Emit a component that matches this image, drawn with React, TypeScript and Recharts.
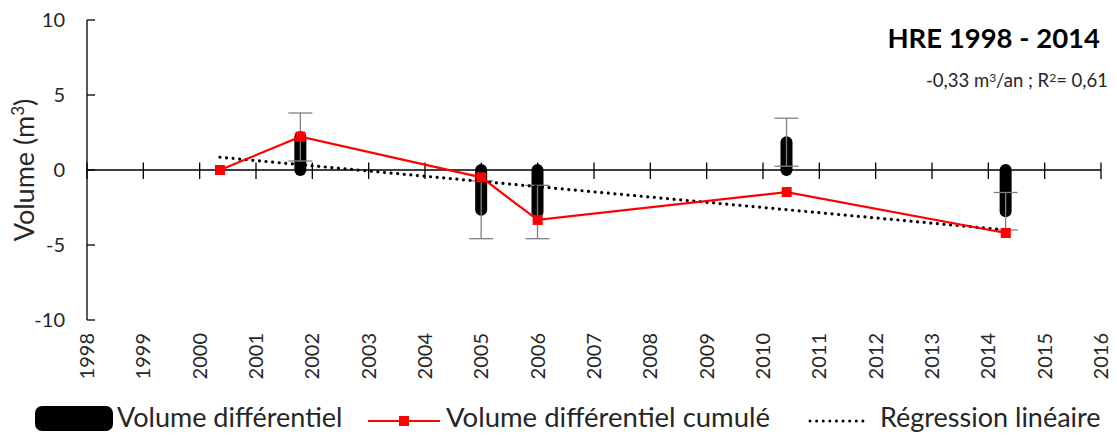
import React from 'react';
import { ComposedChart, Bar, Line, XAxis, YAxis, ReferenceLine, ErrorBar } from 'recharts';

// survey dates (decimal years) and measured volumes (m3)
const surveyYears = [2000.36, 2001.79, 2005.0, 2006.0, 2010.42, 2014.31];
const cumulatedVolume = [0, 2.22, -0.49, -3.33, -1.47, -4.2];
const differentialVolume = [null, 2.2, -2.65, -2.8, 1.85, -2.75];
const differentialError = [null, 1.6, 1.93, 1.78, 1.6, 1.25];
const regressionVolume = [0.85, null, null, null, null, -4.0];

const yearTicks = [
  1998, 1999, 2000, 2001, 2002, 2003, 2004, 2005, 2006, 2007,
  2008, 2009, 2010, 2011, 2012, 2013, 2014, 2015, 2016,
];
const volumeTicks = [-10, -5, 0, 5, 10];

const data = surveyYears.map((year, i) => ({
  year,
  cum: cumulatedVolume[i],
  diff: differentialVolume[i],
  err: differentialError[i],
  reg: regressionVolume[i],
}));

const textColor = '#262626';

// rotated year labels under the plot
const YearTick = (props: any) => {
  const { x, y, payload } = props;
  return (
    <text
      x={x}
      y={y}
      transform={`rotate(-90, ${x}, ${y})`}
      textAnchor="end"
      dy="0.35em"
      fontSize={20}
      fill={textColor}
    >
      {payload.value}
    </text>
  );
};

// y axis title with a real superscript
const VolumeLabel = (props: any) => {
  const { viewBox } = props;
  const cx = viewBox.x + 17;
  const cy = viewBox.y + viewBox.height / 2;
  return (
    <text
      x={cx}
      y={cy}
      transform={`rotate(-90, ${cx}, ${cy})`}
      textAnchor="middle"
      dy="0.35em"
      fontSize={27}
      fill={textColor}
    >
      Volume (m<tspan fontSize={17} dy={-10}>3</tspan><tspan dy={10}>)</tspan>
    </text>
  );
};

// thick bar with round caps (like a fat line)
const RoundBar = (props: any) => {
  const { x, y, width, height } = props;
  if (height == null || width == null) return null;
  const top = Math.min(y, y + height);
  const h = Math.abs(height);
  const r = width / 2;
  return <rect x={x} y={top - r} width={width} height={h + 2 * r} rx={r} ry={r} fill="#000" />;
};

const SquareDot = (props: any) => {
  const { cx, cy, index } = props;
  if (cx == null || cy == null) return null;
  return <rect key={`dot-${index}`} x={cx - 5} y={cy - 5} width={10} height={10} fill="#ff0000" />;
};

const legendText: React.CSSProperties = { position: 'absolute', top: 0, fontSize: 27, whiteSpace: 'nowrap', lineHeight: '32px' };
const sup: React.CSSProperties = { fontSize: '0.65em', verticalAlign: '0.45em', lineHeight: 0 };

const App: React.FC = () => {
  return (
    <div style={{ position: 'relative', width: 1101, height: 425, fontFamily: 'Lato, sans-serif', color: textColor }}>
      <style>{'svg.recharts-surface { overflow: visible; }'}</style>
      <ComposedChart
        width={1101}
        height={380}
        data={data}
        margin={{ top: 12, right: 8, bottom: 8, left: 0 }}
      >
        <XAxis
          dataKey="year"
          type="number"
          domain={[1998, 2016]}
          ticks={yearTicks}
          axisLine={false}
          tickLine={false}
          tickSize={0}
          tickMargin={13}
          height={60}
          interval={0}
          tick={<YearTick />}
        />
        <YAxis
          type="number"
          domain={[-10, 10]}
          ticks={volumeTicks}
          width={79}
          axisLine={{ stroke: '#000', strokeWidth: 1.3 }}
          tickLine={{ stroke: '#000', strokeWidth: 1.3 }}
          tickSize={-8}
          tickMargin={30}
          tick={{ fontSize: 20, fill: textColor }}
          label={<VolumeLabel />}
        />
        <ReferenceLine y={0} stroke="#000" strokeWidth={1.3} />
        {yearTicks.map((yr) => (
          <ReferenceLine
            key={yr}
            segment={[{ x: yr, y: 0.5 }, { x: yr, y: -0.6 }]}
            stroke="#000"
            strokeWidth={1.3}
          />
        ))}
        <Bar dataKey="diff" barSize={12} shape={<RoundBar />} isAnimationActive={false}>
          <ErrorBar dataKey="err" width={12} stroke="#808080" strokeWidth={1.3} />
        </Bar>
        <Line
          dataKey="reg"
          stroke="#000"
          strokeWidth={3.2}
          strokeDasharray="0.01 6.6"
          strokeLinecap="round"
          dot={false}
          connectNulls
          isAnimationActive={false}
        />
        <Line
          dataKey="cum"
          stroke="#ff0000"
          strokeWidth={2.2}
          dot={<SquareDot />}
          isAnimationActive={false}
        />
      </ComposedChart>

      <div style={{ position: 'absolute', right: 9, top: 13, fontSize: 27.5, fontWeight: 700, color: '#000', whiteSpace: 'nowrap' }}>
        HRE 1998 - 2014
      </div>
      <div style={{ position: 'absolute', right: 1, top: 61, fontSize: 18.5, color: textColor, whiteSpace: 'nowrap' }}>
        -0,33 m<span style={sup}>3</span>/an ; R<span style={sup}>2</span>= 0,61
      </div>

      {/* legend */}
      <div style={{ position: 'absolute', left: 0, top: 393, width: 1101, height: 32 }}>
        <span style={{ position: 'absolute', left: 27, top: 5, width: 78, height: 25, background: '#000', borderRadius: 7 }} />
        <span style={{ ...legendText, left: 109 }}>Volume différentiel</span>
        <svg width={72} height={12} style={{ position: 'absolute', left: 360, top: 14 }}>
          <line x1={0} y1={6} x2={72} y2={6} stroke="#ff0000" strokeWidth={2.2} />
          <rect x={31} y={1} width={10} height={10} fill="#ff0000" />
        </svg>
        <span style={{ ...legendText, left: 438, fontSize: 27.5 }}>Volume différentiel cumulé</span>
        <svg width={62} height={6} style={{ position: 'absolute', left: 800, top: 17 }}>
          <line x1={2} y1={3} x2={60} y2={3} stroke="#000" strokeWidth={3} strokeDasharray="0.01 6.6" strokeLinecap="round" />
        </svg>
        <span style={{ ...legendText, left: 872 }}>Régression linéaire</span>
      </div>
    </div>
  );
};

export default App;
